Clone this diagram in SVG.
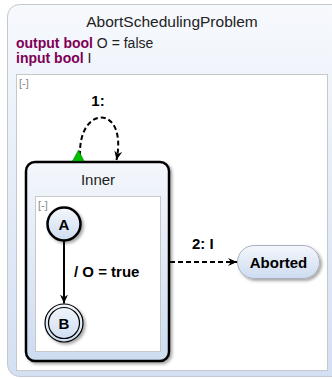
<svg xmlns="http://www.w3.org/2000/svg" width="332" height="379" viewBox="0 0 332 379">
<defs>
<linearGradient id="gOuter" x1="0" y1="0" x2="0" y2="1">
<stop offset="0" stop-color="#f7f9fd"/>
<stop offset="1" stop-color="#d3e0f3"/>
</linearGradient>
<linearGradient id="gState" x1="0" y1="0" x2="0" y2="1">
<stop offset="0" stop-color="#f4f7fc"/>
<stop offset="1" stop-color="#cddcf1"/>
</linearGradient>
<filter id="sh" x="-30%" y="-30%" width="160%" height="160%">
<feGaussianBlur in="SourceAlpha" stdDeviation="1.5"/>
<feOffset dx="2" dy="2" result="b"/>
<feComponentTransfer><feFuncA type="linear" slope="0.35"/></feComponentTransfer>
<feMerge><feMergeNode/><feMergeNode in="SourceGraphic"/></feMerge>
</filter>
<marker id="arr" markerWidth="10" markerHeight="10" refX="9" refY="5" orient="auto" markerUnits="userSpaceOnUse">
<path d="M0,1 L9,5 L0,9 L3,5 Z" fill="#000"/>
</marker>
</defs>
<style>
text{font-family:"Liberation Sans",Arial,sans-serif;}
.t{font-size:15.5px;fill:#222;}
.in{font-size:15px;fill:#222;}
.kw{font-size:14px;font-weight:bold;fill:#7f0055;}
.dc{font-size:14px;fill:#222;}
.col{font-size:11px;fill:#888;}
.lbl{font-size:15px;font-weight:bold;fill:#000;}
.sn{font-size:15px;font-weight:bold;fill:#000;}
.edge{fill:none;stroke:#000;stroke-width:2;}
.dash{stroke-dasharray:5,3;}
</style>
<g id="AbortSchedulingProblem">
<rect x="7.5" y="4.5" width="340" height="372" rx="12" fill="url(#gOuter)" stroke="#c2c8d0"/>
<text class="t" x="172" y="27" text-anchor="middle">AbortSchedulingProblem</text>
<text x="16" y="48"><tspan class="kw">output bool</tspan><tspan class="dc"> O = false</tspan></text>
<text x="16" y="63"><tspan class="kw">input bool</tspan><tspan class="dc"> I</tspan></text>
<rect x="16.5" y="74.5" width="311" height="296" fill="#fff" stroke="#c8c8c8"/>
<text class="col" x="19" y="87">[-]</text>
</g>
<g id="Inner">
<rect x="26" y="162" width="143" height="199" rx="9" fill="url(#gState)" stroke="#000" stroke-width="2.5" filter="url(#sh)"/>
<text class="in" x="98" y="185" text-anchor="middle">Inner</text>
<rect x="35.5" y="196.5" width="125" height="155" fill="#fff" stroke="#c8c8c8"/>
<text class="col" x="38" y="209">[-]</text>
</g>
<g id="A">
<circle cx="64" cy="224" r="16.5" fill="url(#gState)" stroke="#000" stroke-width="2.5" filter="url(#sh)"/>
<text class="sn" x="64" y="229.5" text-anchor="middle">A</text>
</g>
<g id="B">
<circle cx="64" cy="323" r="19" fill="url(#gState)" stroke="#000" stroke-width="1.2" filter="url(#sh)"/>
<circle cx="64" cy="323" r="15.5" fill="none" stroke="#000" stroke-width="1.2"/>
<text class="sn" x="64" y="328.5" text-anchor="middle">B</text>
</g>
<g id="Aborted">
<rect x="237.5" y="245.5" width="82" height="33" rx="16.5" fill="url(#gState)" stroke="#a8b0bc" filter="url(#sh)"/>
<text class="sn" x="278.5" y="267.5" text-anchor="middle">Aborted</text>
</g>
<g id="connectors">
<path class="edge" d="M64,241 L64,303.5" marker-end="url(#arr)"/>
<text class="lbl" x="74" y="277">/ O = true</text>
<path class="edge dash" d="M80,156 C78,104 128,104 116.5,160" marker-end="url(#arr)"/>
<polygon points="72.5,161 84,161 78.5,150" fill="#00c000" stroke="#007000" stroke-width="0.5"/>
<text class="lbl" x="98" y="106" text-anchor="middle">1:</text>
<path class="edge dash" d="M170,262 L237,262" marker-end="url(#arr)"/>
<text class="lbl" x="192" y="249">2: I</text>
</g>
</svg>
